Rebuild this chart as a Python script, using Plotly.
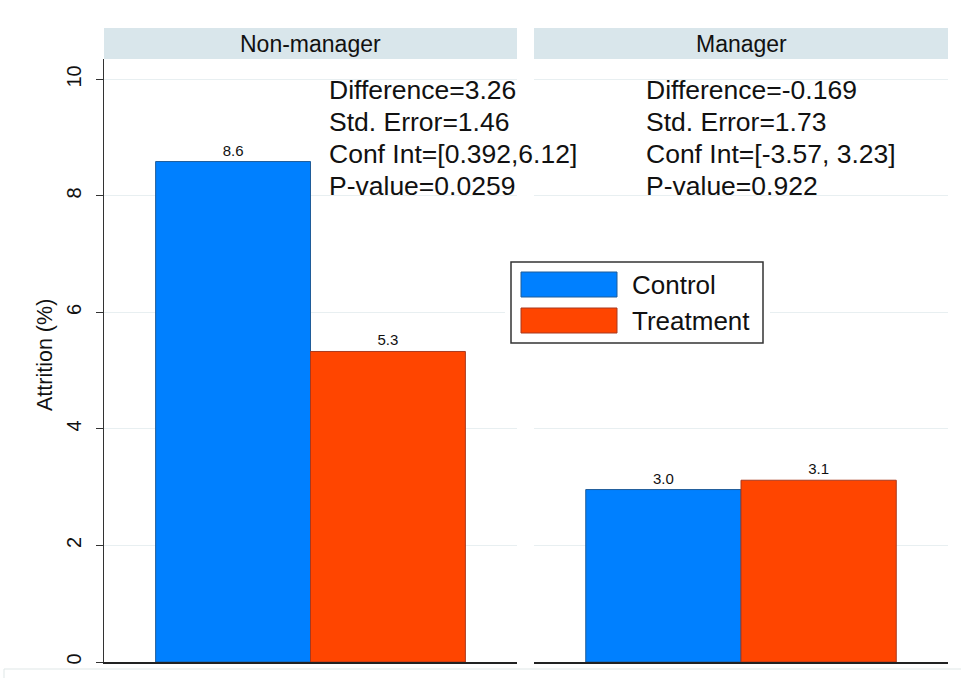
import plotly.graph_objects as go
from plotly.subplots import make_subplots

# ---- data -------------------------------------------------------------
panels = ["Non-manager", "Manager"]
groups = ["Control", "Treatment"]
control = [8.59, 2.96]
treatment = [5.33, 3.12]

differences = ["3.26", "-0.169"]
std_errors = ["1.46", "1.73"]
conf_ints = ["[0.392,6.12]", "[-3.57, 3.23]"]
p_values = ["0.0259", "0.922"]

y_ticks = [0, 2, 4, 6, 8, 10]

# ---- styling ----------------------------------------------------------
W, H = 961, 678
M_L, M_R, M_T, M_B = 104, 13, 59, 16
FONT = "Liberation Sans, Arial, Helvetica, sans-serif"
fills = {"Control": "#0080ff", "Treatment": "#ff4500"}
edges = {"Control": "#1f5c99", "Treatment": "#a8391f"}
GRID = "#e8eff1"
STRIP = "#d9e6eb"

plot_w = W - M_L - M_R
plot_h = H - M_T - M_B


def px_x(px):
    return (px - M_L) / plot_w


def px_y(py):
    return (H - M_B - py) / plot_h


fig = make_subplots(rows=1, cols=2, shared_yaxes=True, horizontal_spacing=0.02)

series = {"Control": control, "Treatment": treatment}
for col, panel in enumerate(panels, start=1):
    for g in groups:
        fig.add_trace(
            go.Bar(
                x=[panel],
                y=[series[g][col - 1]],
                name=g,
                marker=dict(color=fills[g], line=dict(color=edges[g], width=1)),
                texttemplate="%{y:.1f}",
                textposition="outside",
                textfont=dict(size=15, color="#111", family=FONT),
                cliponaxis=False,
                showlegend=False,
            ),
            row=1,
            col=col,
        )

fig.update_layout(
    width=W,
    height=H,
    margin=dict(l=M_L, r=M_R, t=M_T, b=M_B),
    paper_bgcolor="white",
    plot_bgcolor="white",
    barmode="group",
    bargap=0.25,
    bargroupgap=0,
    font=dict(family=FONT, color="#111"),
    showlegend=False,
)

split_l = px_x(517)
split_r = px_x(534)
fig.update_xaxes(showticklabels=False, ticks="", showgrid=False, zeroline=False,
                 showline=True, linecolor="#222", linewidth=1.5)
fig.layout.xaxis.domain = [0, split_l]
fig.layout.xaxis2.domain = [split_r, 1]

fig.update_yaxes(range=[0, 10.35], tickvals=y_ticks, showgrid=True, gridcolor=GRID,
                 gridwidth=1, zeroline=False)
fig.layout.yaxis.update(showline=True, linecolor="#333", linewidth=1, ticks="outside",
                        ticklen=7, tickcolor="#333", tickangle=-90,
                        tickfont=dict(size=20, color="#111"), ticklabelstandoff=7)
fig.layout.yaxis2.update(showline=False, ticks="", showticklabels=False)

# panel headers
for col, panel in enumerate(panels, start=1):
    xref = "x domain" if col == 1 else "x2 domain"
    fig.add_shape(type="rect", xref=xref, yref="paper", x0=0, x1=1,
                  y0=px_y(59), y1=px_y(28), fillcolor=STRIP, line=dict(width=0),
                  layer="below")
    fig.add_annotation(xref=xref, yref="paper", x=0.5, y=px_y(43.5), text=panel,
                       showarrow=False, font=dict(size=23, color="#111"),
                       xanchor="center", yanchor="middle")

# test statistics text
stat_x = [px_x(327), px_x(644)]
for i in range(len(panels)):
    lines = [
        f"Difference={differences[i]}",
        f"Std. Error={std_errors[i]}",
        f"Conf Int={conf_ints[i]}",
        f"P-value={p_values[i]}",
    ]
    for k, line in enumerate(lines):
        fig.add_annotation(xref="paper", yref="paper", x=stat_x[i], y=px_y(90 + 32 * k),
                           text=line, showarrow=False, xanchor="left", yanchor="middle",
                           font=dict(size=26.5, color="#111"))

# y axis title
fig.add_annotation(xref="paper", yref="paper", x=px_x(45), y=px_y(355),
                   text="Attrition (%)", textangle=-90, showarrow=False,
                   xanchor="center", yanchor="middle", font=dict(size=21.5, color="#111"))

# boxed legend
fig.add_shape(type="rect", xref="paper", yref="paper", x0=px_x(505), x1=px_x(770),
              y0=px_y(349), y1=px_y(256), fillcolor="white", line=dict(width=0),
              layer="above")
fig.add_shape(type="rect", xref="paper", yref="paper", x0=px_x(511), x1=px_x(763),
              y0=px_y(343), y1=px_y(262), fillcolor="white",
              line=dict(color="#333", width=1.5), layer="above")
for k, g in enumerate(groups):
    top = 272 + 36 * k
    fig.add_shape(type="rect", xref="paper", yref="paper", x0=px_x(521), x1=px_x(617),
                  y0=px_y(top + 25), y1=px_y(top), fillcolor=fills[g],
                  line=dict(color=edges[g], width=1), layer="above")
    fig.add_annotation(xref="paper", yref="paper", x=px_x(630), y=px_y(top + 13),
                       text=g, showarrow=False, xanchor="left", yanchor="middle",
                       font=dict(size=26, color="#111"))

# outer frame edge along the bottom
fig.add_shape(type="rect", xref="paper", yref="paper", x0=px_x(4), x1=px_x(975),
              y0=px_y(700), y1=px_y(669), fillcolor="rgba(0,0,0,0)",
              line=dict(color="#dfe7e7", width=1), layer="above")

fig.write_html("out.html")
